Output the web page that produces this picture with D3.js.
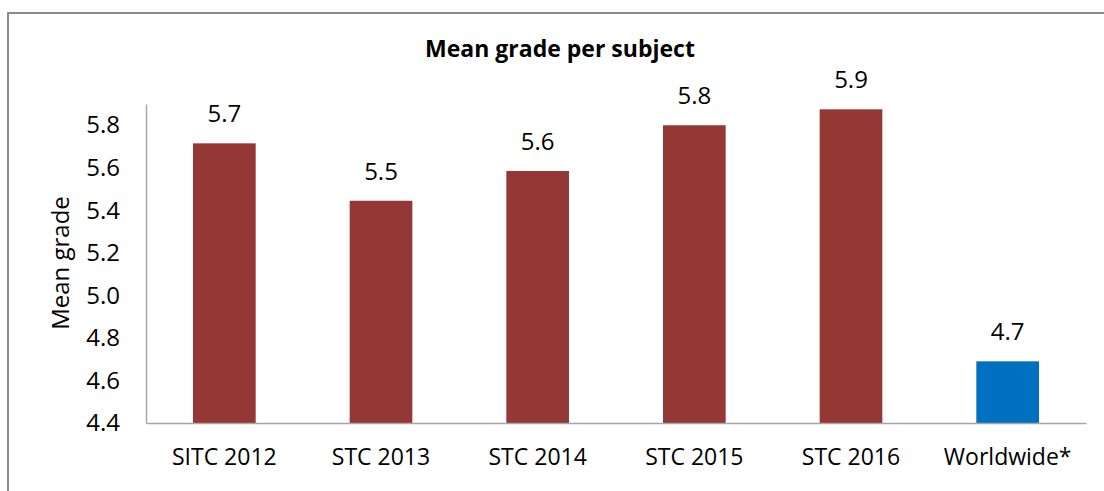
<!DOCTYPE html>
<html>
<head>
<meta charset="utf-8">
<script src="https://cdn.jsdelivr.net/npm/d3@7"></script>
<style>
  body { margin: 0; background: #fff; }
  svg { display: block; font-family: "Open Sans", sans-serif; }
</style>
</head>
<body>
<svg id="chart" width="1104" height="491"></svg>
<script>
const categories = ["SITC 2012", "STC 2013", "STC 2014", "STC 2015", "STC 2016", "Worldwide*"];
const values = [5.715, 5.445, 5.585, 5.80, 5.875, 4.69];
const labels = ["5.7", "5.5", "5.6", "5.8", "5.9", "4.7"];
const colors = ["#953735", "#953735", "#953735", "#953735", "#953735", "#0070c0"];
const yTicks = [4.4, 4.6, 4.8, 5.0, 5.2, 5.4, 5.6, 5.8];

const svg = d3.select("#chart");
const margin = { left: 146, right: 18, top: 104, bottom: 68 };
const width = 1104, height = 491;

// frame (only top and left visible in picture)
svg.append("rect")
  .attr("x", 8).attr("y", 13)
  .attr("width", 1200).attr("height", 600)
  .attr("fill", "none")
  .attr("stroke", "#8a8a8a")
  .attr("stroke-width", 2);

const x = d3.scaleBand()
  .domain(categories)
  .range([margin.left, width - margin.right])
  .paddingInner(0.6)
  .paddingOuter(0.3);

const y = d3.scaleLinear()
  .domain([4.4, 5.9])
  .range([height - margin.bottom, margin.top]);

svg.append("text")
  .attr("x", 560).attr("y", 57)
  .attr("text-anchor", "middle")
  .attr("font-size", 23)
  .attr("font-weight", "bold")
  .attr("fill", "#000")
  .text("Mean grade per subject");

// y axis
const yAxis = svg.append("g")
  .attr("transform", `translate(${margin.left},0)`)
  .call(d3.axisLeft(y).tickValues(yTicks).tickFormat(d3.format(".1f")).tickSize(0).tickPadding(26));
yAxis.select(".domain").attr("stroke", "#a6a6a6").attr("stroke-width", 1.5);
yAxis.selectAll("text")
  .attr("font-size", 24)
  .attr("fill", "#000")
  .attr("font-family", "Open Sans, sans-serif");

svg.append("text")
  .attr("transform", `translate(69,263) rotate(-90)`)
  .attr("text-anchor", "middle")
  .attr("font-size", 24)
  .attr("fill", "#000")
  .text("Mean grade");

// bars
svg.selectAll("rect.bar")
  .data(categories)
  .join("rect")
  .attr("class", "bar")
  .attr("x", d => x(d))
  .attr("width", x.bandwidth())
  .attr("y", (d, i) => y(values[i]))
  .attr("height", (d, i) => y(4.4) - y(values[i]))
  .attr("fill", (d, i) => colors[i]);

svg.selectAll("text.val")
  .data(categories)
  .join("text")
  .attr("class", "val")
  .attr("x", d => x(d) + x.bandwidth() / 2)
  .attr("y", (d, i) => y(values[i]) - 21)
  .attr("text-anchor", "middle")
  .attr("font-size", 24)
  .attr("fill", "#000")
  .text((d, i) => labels[i]);

// x axis
const xAxis = svg.append("g")
  .attr("transform", `translate(0,${y(4.4)})`)
  .call(d3.axisBottom(x).tickSize(0).tickPadding(26).tickSizeOuter(0));
xAxis.select(".domain").attr("stroke", "#a6a6a6").attr("stroke-width", 1.5);
xAxis.selectAll("text")
  .attr("font-size", 23)
  .attr("fill", "#000")
  .attr("font-family", "Open Sans, sans-serif");
</script>
</body>
</html>
